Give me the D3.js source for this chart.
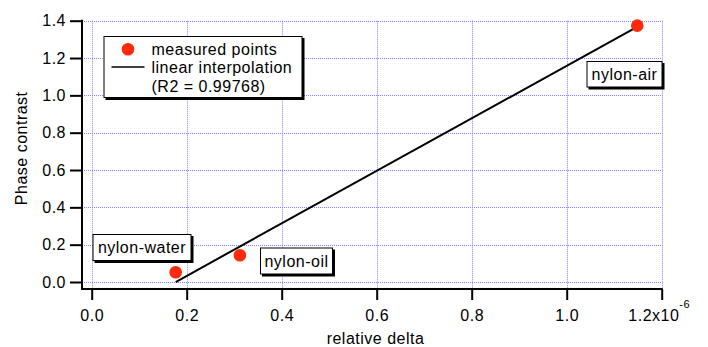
<!DOCTYPE html>
<html>
<head>
<meta charset="utf-8">
<script src="https://cdn.jsdelivr.net/npm/d3@7"></script>
<style>
  body { margin: 0; background: #fff; }
  text { font-family: "Liberation Sans", Arial, Helvetica, sans-serif; letter-spacing: 0.5px; }
</style>
</head>
<body>
<div id="chart"></div>
<script>
var w = 708;
var h = 347;

// measured points
var deltas = [0.1768, 0.312, 1.1486];
var contrasts = [0.052, 0.143, 1.3735];
var names = ["nylon-water", "nylon-oil", "nylon-air"];

// linear interpolation end points
var fitX = [0.1768, 1.1435];
var fitY = [0.0, 1.36];

var xTicks = [0, 0.2, 0.4, 0.6, 0.8, 1.0, 1.2];
var yTicks = [0, 0.2, 0.4, 0.6, 0.8, 1.0, 1.2, 1.4];
var legendLabels = ["measured points", "linear interpolation", "(R2 = 0.99768)"];

var xScale = d3.scaleLinear()
			.domain([-0.0204, 1.2])
			.range([82, 661.7]);

var yScale = d3.scaleLinear()
			.domain([-0.0375, 1.4])
			.range([289, 20.7]);

var svg = d3.select("#chart")
		.append("svg")
		.attr("width", w)
		.attr("height", h);

//grid
var grid = svg.append("g")
	.attr("stroke", "#8282ff")
	.attr("stroke-width", 1)
	.attr("stroke-dasharray", "1,1");

grid.selectAll("line.gx")
.data(xTicks)
.enter()
.append("line")
.attr("class", "gx")
.attr("x1", function(d) { return Math.round(xScale(d)) + 0.5; })
.attr("x2", function(d) { return Math.round(xScale(d)) + 0.5; })
.attr("y1", yScale(1.4))
.attr("y2", 289);

grid.selectAll("line.gy")
.data(yTicks)
.enter()
.append("line")
.attr("class", "gy")
.attr("y1", function(d) { return Math.round(yScale(d)) + 0.5; })
.attr("y2", function(d) { return Math.round(yScale(d)) + 0.5; })
.attr("x1", 82)
.attr("x2", xScale(1.2));

//axes
var yAxis = d3.axisLeft(yScale)
	.tickValues(yTicks)
	.tickSize(12)
	.tickPadding(4)
	.tickFormat(d3.format(".1f"));

var gy = svg.append("g")
	.attr("transform", "translate(82,0)")
	.call(yAxis);

var xAxis = d3.axisBottom(xScale)
	.tickValues(xTicks)
	.tickSize(11)
	.tickPadding(10)
	.tickFormat(d3.format(".1f"));

var gx = svg.append("g")
	.attr("transform", "translate(0,289)")
	.call(xAxis);

[gx, gy].forEach(function(g) {
	g.select(".domain").attr("d", null);
	g.selectAll(".tick line").attr("stroke-width", 2);
	g.selectAll("text")
		.attr("font-size", "16px")
		.attr("font-family", "Liberation Sans, Arial, sans-serif")
		.attr("fill", "#000");
});

gy.append("line")
	.attr("x1", 0).attr("x2", 0)
	.attr("y1", yScale(1.4) - 1).attr("y2", 290)
	.attr("stroke", "#000").attr("stroke-width", 2);
gx.append("line")
	.attr("x1", 81).attr("x2", xScale(1.2) + 1)
	.attr("y1", 0).attr("y2", 0)
	.attr("stroke", "#000").attr("stroke-width", 2);

// last x tick gets the exponent
gx.selectAll(".tick text")
	.filter(function(d) { return d === 1.2; })
	.text(null)
	.attr("text-anchor", "middle")
	.attr("dx", "-3px")
	.call(function(t) {
		t.append("tspan").text("1.2x10");
		t.append("tspan").text("-6").attr("font-size", "11px").attr("dy", "-13px");
	});

//axis titles
svg.append("text")
	.attr("x", 375.5)
	.attr("y", 344.3)
	.attr("text-anchor", "middle")
	.attr("font-size", "16px")
	.text("relative delta");

svg.append("text")
	.attr("transform", "translate(27,148.3) rotate(-90)")
	.attr("text-anchor", "middle")
	.attr("font-size", "16px")
	.text("Phase contrast");

//fit line
svg.append("line")
	.attr("x1", xScale(fitX[0]))
	.attr("y1", yScale(fitY[0]))
	.attr("x2", xScale(fitX[1]))
	.attr("y2", yScale(fitY[1]))
	.attr("stroke", "#000")
	.attr("stroke-width", 2);

//points
svg.selectAll("circle.pt")
.data(deltas)
.enter()
.append("circle")
.attr("class", "pt")
.attr("cx", function(d) { return xScale(d); })
.attr("cy", function(d, i) { return yScale(contrasts[i]); })
.attr("r", 6.3)
.attr("fill", "#ff2a0c");

//boxed text helper
function boxed(x, y, bw, bh) {
	var g = svg.append("g").attr("transform", "translate(" + x + "," + y + ")");
	g.append("rect")
		.attr("x", 2).attr("y", 2)
		.attr("width", bw).attr("height", bh)
		.attr("fill", "#000");
	g.append("rect")
		.attr("x", 0.5).attr("y", 0.5)
		.attr("width", bw - 1).attr("height", bh - 1)
		.attr("fill", "#fff")
		.attr("stroke", "#000")
		.attr("stroke-width", 1);
	return g;
}

//point labels
var labelBoxes = [[92.5, 234, 99, 27], [260, 247.5, 73, 27], [586.5, 61, 76, 26.5]];
names.forEach(function(n, i) {
	var b = labelBoxes[i];
	var g = boxed(b[0], b[1], b[2], b[3]);
	g.append("text")
		.attr("x", b[2] / 2)
		.attr("y", 19)
		.attr("text-anchor", "middle")
		.attr("font-size", "16px")
		.text(n);
});

//legend
var lg = boxed(103.5, 36, 199, 62);
lg.append("circle")
	.attr("cx", 24.5)
	.attr("cy", 13.3)
	.attr("r", 6.3)
	.attr("fill", "#ff2a0c");
lg.append("line")
	.attr("x1", 8).attr("x2", 41)
	.attr("y1", 31).attr("y2", 31)
	.attr("stroke", "#000")
	.attr("stroke-width", 1.5);
lg.selectAll("text.lt")
.data(legendLabels)
.enter()
.append("text")
.attr("class", "lt")
.attr("x", 48)
.attr("y", function(d, i) { return 18.5 + i * 18.5; })
.attr("font-size", "16px")
.text(function(d) { return d; });
</script>
</body>
</html>
